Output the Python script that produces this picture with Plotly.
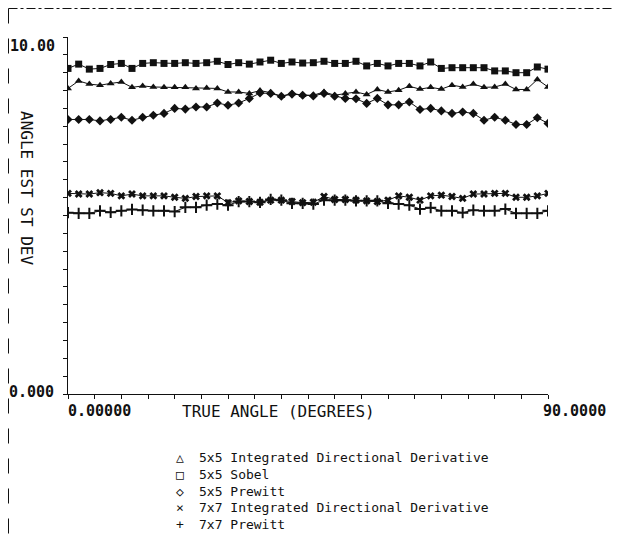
import plotly.graph_objects as go

angles = list(range(0, 91, 2))

idd5 = [8.56, 8.77, 8.68, 8.65, 8.70, 8.74, 8.59, 8.63, 8.60, 8.59, 8.59, 8.59, 8.56, 8.57, 8.56, 8.46,
        8.46, 8.42, 8.50, 8.44, 8.34, 8.42, 8.37, 8.37, 8.46, 8.37, 8.42, 8.46, 8.39, 8.53, 8.46, 8.51,
        8.62, 8.54, 8.59, 8.54, 8.65, 8.60, 8.68, 8.59, 8.60, 8.68, 8.53, 8.53, 8.81, 8.60]
sobel5 = [9.12, 9.24, 9.10, 9.12, 9.23, 9.26, 9.12, 9.26, 9.28, 9.26, 9.26, 9.28, 9.26, 9.28, 9.32, 9.23,
          9.28, 9.24, 9.30, 9.35, 9.26, 9.30, 9.27, 9.28, 9.32, 9.26, 9.26, 9.32, 9.19, 9.26, 9.19, 9.26,
          9.26, 9.19, 9.30, 9.12, 9.14, 9.14, 9.14, 9.14, 9.05, 9.05, 9.00, 9.00, 9.16, 9.10]
prewitt5 = [7.69, 7.69, 7.69, 7.65, 7.69, 7.75, 7.67, 7.75, 7.81, 7.86, 8.00, 7.98, 8.04, 8.04, 8.15, 8.09,
            8.15, 8.28, 8.43, 8.42, 8.34, 8.40, 8.37, 8.35, 8.42, 8.34, 8.28, 8.27, 8.14, 8.28, 8.10, 8.10,
            8.18, 7.97, 8.00, 7.93, 7.86, 7.90, 7.86, 7.67, 7.75, 7.67, 7.55, 7.55, 7.74, 7.58]
idd7 = [5.62, 5.60, 5.60, 5.64, 5.62, 5.55, 5.60, 5.55, 5.55, 5.55, 5.51, 5.48, 5.53, 5.55, 5.55, 5.36,
        5.41, 5.39, 5.37, 5.43, 5.43, 5.39, 5.36, 5.37, 5.53, 5.45, 5.45, 5.43, 5.41, 5.39, 5.43, 5.55,
        5.51, 5.43, 5.55, 5.57, 5.53, 5.48, 5.60, 5.60, 5.62, 5.62, 5.51, 5.51, 5.55, 5.62]
prewitt7 = [5.08, 5.06, 5.06, 5.13, 5.09, 5.13, 5.17, 5.15, 5.13, 5.13, 5.11, 5.23, 5.23, 5.29, 5.32, 5.29,
            5.39, 5.39, 5.37, 5.45, 5.43, 5.34, 5.34, 5.32, 5.43, 5.43, 5.43, 5.41, 5.41, 5.41, 5.34, 5.32,
            5.29, 5.18, 5.22, 5.13, 5.13, 5.08, 5.15, 5.13, 5.13, 5.18, 5.06, 5.06, 5.06, 5.13]

names = ["5x5 Integrated Directional Derivative", "5x5 Sobel", "5x5 Prewitt",
         "7x7 Integrated Directional Derivative", "7x7 Prewitt"]
series = [idd5, sobel5, prewitt5, idd7, prewitt7]
plot_symbols = ["triangle-up", "square", "diamond", "x", "cross-thin"]
legend_glyphs = ["\u25B3", "\u25A1", "\u25C7", "\u00D7", "+"]

x_range = [0, 90]
y_range = [0, 10]
x_tick_labels = ["0.00000", "90.0000"]
y_tick_labels = ["0.000", "10.00"]
x_title = "TRUE ANGLE (DEGREES)"
y_title = "ANGLE EST ST DEV"

INK = "#111111"
W, H = 612, 540
ML, MR, MT, MB = 60, 72, 29, 154
PW, PH = W - ML - MR, H - MT - MB


def px(xf):
    return (xf - ML) / PW


def py(yf):
    return (H - MB - yf) / PH


fig = go.Figure()

for nm, vals, sym in zip(names, series, plot_symbols):
    mk = dict(symbol=sym, size=7, color=INK)
    if sym.endswith("thin"):
        mk.update(size=8, line=dict(width=2, color=INK))
    fig.add_trace(go.Scatter(x=angles, y=vals, mode="lines+markers", name=nm,
                             line=dict(color=INK, width=1), marker=mk,
                             showlegend=False, hoverinfo="skip"))

mono = "DejaVu Sans Mono"
fig.update_layout(
    width=W, height=H,
    margin=dict(l=ML, r=MR, t=MT, b=MB, autoexpand=False),
    paper_bgcolor="white", plot_bgcolor="white",
    showlegend=False,
    xaxis=dict(range=x_range, showgrid=False, zeroline=False, showline=True,
               linecolor=INK, linewidth=1, ticks="outside", ticklen=4,
               tickcolor=INK, dtick=5, tick0=0, showticklabels=False),
    yaxis=dict(range=y_range, showgrid=False, zeroline=False, showline=True,
               linecolor=INK, linewidth=1, ticks="outside", ticklen=4,
               tickcolor=INK, dtick=0.5, tick0=0, showticklabels=False),
)

tick_font = dict(family=mono, size=15, color=INK)
anns = [
    dict(text="<b>%s</b>" % y_tick_labels[1], xref="paper", yref="y", x=px(49), y=y_range[1],
         xanchor="right", yanchor="top", showarrow=False, font=tick_font, yshift=2),
    dict(text="<b>%s</b>" % y_tick_labels[0], xref="paper", yref="y", x=px(48), y=y_range[0],
         xanchor="right", yanchor="middle", showarrow=False, font=tick_font, yshift=2),
    dict(text="<b>%s</b>" % x_tick_labels[0], xref="x", yref="paper", x=x_range[0], y=py(403),
         xanchor="left", yanchor="middle", showarrow=False, font=tick_font, xshift=-2),
    dict(text="<b>%s</b>" % x_tick_labels[1], xref="x", yref="paper", x=x_range[1], y=py(403),
         xanchor="left", yanchor="middle", showarrow=False, font=tick_font, xshift=-7),
    dict(text=x_title, xref="x", yref="paper", x=21.0, y=py(403), xanchor="left",
         yanchor="middle", showarrow=False, font=dict(family=mono, size=16, color=INK)),
    dict(text=y_title, xref="paper", yref="paper", x=px(19), y=py(180), xanchor="center",
         yanchor="middle", textangle=90, showarrow=False,
         font=dict(family=mono, size=16, color=INK)),
]

legend_rows = [449, 466, 483, 499, 516]
for nm, gl, ry in zip(names, legend_glyphs, legend_rows):
    anns.append(dict(text=gl, xref="paper", yref="paper", x=px(172), y=py(ry),
                     xanchor="center", yanchor="middle", showarrow=False,
                     font=dict(family=mono, size=13, color=INK)))
    anns.append(dict(text=nm, xref="paper", yref="paper", x=px(189), y=py(ry),
                     xanchor="left", yanchor="middle", showarrow=False,
                     font=dict(family=mono, size=13, color=INK)))
fig.update_layout(annotations=anns)

fig.add_shape(type="line", xref="paper", yref="paper", x0=px(0.5), x1=px(0.5), y0=py(0.5), y1=py(H),
              line=dict(color=INK, width=1, dash="longdash"))
fig.add_shape(type="line", xref="paper", yref="paper", x0=px(0.5), x1=px(W), y0=py(0.5), y1=py(0.5),
              line=dict(color=INK, width=1, dash="dashdot"))
fig.add_shape(type="line", xref="paper", yref="paper", x0=px(607), x1=px(607), y0=py(514), y1=py(537),
              line=dict(color=INK, width=1))

fig.write_html("out.html")
